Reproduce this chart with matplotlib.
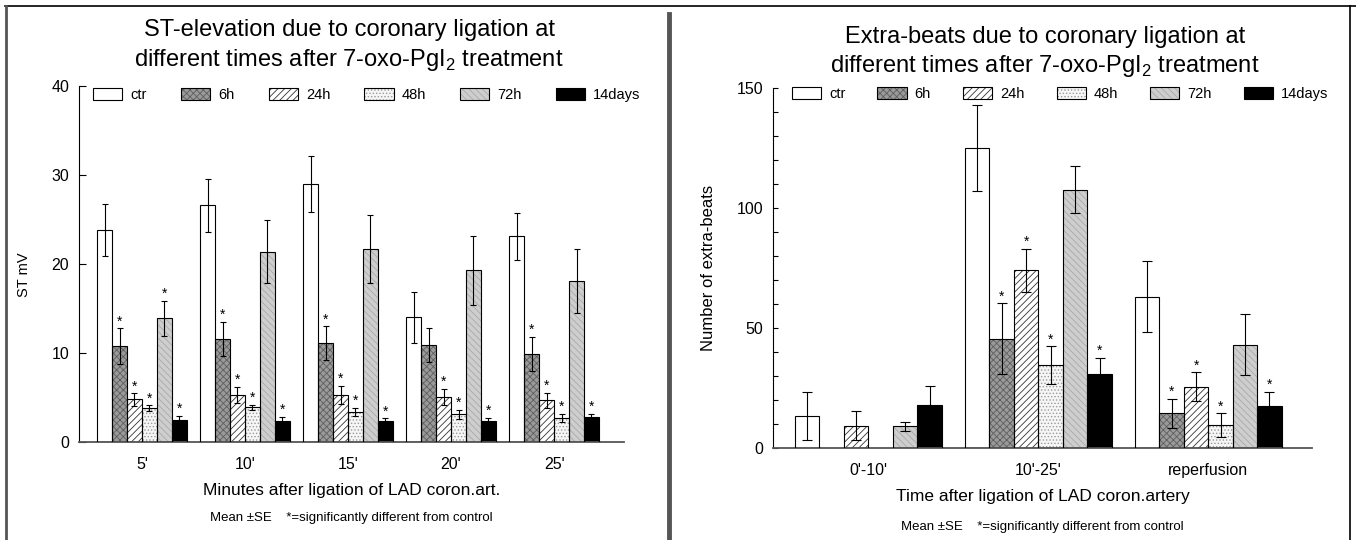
import matplotlib
matplotlib.use('Agg')
import matplotlib.pyplot as plt
import matplotlib.patches as mpatches
from matplotlib.lines import Line2D
import numpy as np

plt.rcParams['font.family'] = ['Liberation Sans', 'DejaVu Sans']
plt.rcParams['hatch.linewidth'] = 0.6

### data
series = ['ctr', '6h', '24h', '48h', '72h', '14days']

st_groups = ["5'", "10'", "15'", "20'", "25'"]
st_mean = {
    'ctr':    [23.8, 26.6, 29.0, 14.0, 23.1],
    '6h':     [10.8, 11.6, 11.1, 10.9, 9.9],
    '24h':    [4.8, 5.3, 5.3, 5.1, 4.7],
    '48h':    [3.8, 3.9, 3.4, 3.1, 2.7],
    '72h':    [13.9, 21.4, 21.7, 19.3, 18.1],
    '14days': [2.5, 2.4, 2.35, 2.4, 2.8],
}
st_se = {
    'ctr':    [2.9, 3.0, 3.1, 2.9, 2.6],
    '6h':     [2.0, 1.9, 1.9, 1.9, 1.9],
    '24h':    [0.7, 0.9, 1.0, 0.9, 0.85],
    '48h':    [0.35, 0.3, 0.45, 0.5, 0.5],
    '72h':    [2.0, 3.5, 3.8, 3.9, 3.6],
    '14days': [0.45, 0.45, 0.3, 0.3, 0.4],
}
st_star = {
    'ctr':    [0, 0, 0, 0, 0],
    '6h':     [1, 1, 1, 0, 1],
    '24h':    [1, 1, 1, 1, 1],
    '48h':    [1, 1, 1, 1, 1],
    '72h':    [1, 0, 0, 0, 0],
    '14days': [1, 1, 1, 1, 1],
}

eb_groups = ["0'-10'", "10'-25'", "reperfusion"]
eb_mean = {
    'ctr':    [13.4, 125.0, 63.0],
    '6h':     [np.nan, 45.5, 14.5],
    '24h':    [9.2, 74.0, 25.5],
    '48h':    [np.nan, 34.6, 9.5],
    '72h':    [9.0, 107.5, 43.0],
    '14days': [18.0, 30.7, 17.5],
}
eb_se = {
    'ctr':    [9.9, 18.0, 14.7],
    '6h':     [np.nan, 14.7, 6.1],
    '24h':    [6.0, 9.0, 6.0],
    '48h':    [np.nan, 7.8, 4.9],
    '72h':    [2.0, 9.8, 12.8],
    '14days': [7.9, 6.9, 5.8],
}
eb_star = {
    'ctr':    [0, 0, 0],
    '6h':     [0, 1, 1],
    '24h':    [0, 1, 1],
    '48h':    [0, 1, 1],
    '72h':    [0, 0, 0],
    '14days': [0, 1, 1],
}

# fill colour, hatch, hatch colour
styles = {
    'ctr':    ('white', '', 'black'),
    '6h':     ('#9a9a9a', 'xxxxx', '#5e5e5e'),
    '24h':    ('white', '/////', '#333333'),
    '48h':    ('#f6f6f6', '.....', '#9a9a9a'),
    '72h':    ('#cecece', '\\\\\\\\\\', '#a9a9a9'),
    '14days': ('black', '', 'black'),
}

fig = plt.figure(figsize=(13.56, 5.4), dpi=100)


def draw_panel(ax, groups, mean, se, star, width, capsize, ylim, ticklen):
    x = np.arange(len(groups))
    for i, s in enumerate(series):
        fc, hatch, hc = styles[s]
        m = np.array(mean[s], dtype=float)
        e = np.array(se[s], dtype=float)
        ok = np.isfinite(m)
        xs = x[ok] + (i - 2.5) * width
        ax.bar(xs, m[ok], width, color=fc, hatch=hatch, edgecolor=hc,
               linewidth=0, zorder=2)
        ax.bar(xs, m[ok], width, fill=False, edgecolor='black',
               linewidth=0.8, zorder=3)
        ax.errorbar(xs, m[ok], yerr=e[ok], fmt='none', ecolor='black',
                    elinewidth=0.8, capsize=capsize, capthick=0.8, zorder=4)
        for xx, mm, ee, st in zip(xs, m[ok], e[ok], np.array(star[s])[ok]):
            if st:
                ax.annotate('*', (xx, mm + ee), xytext=(0, 2),
                            textcoords='offset points', ha='center',
                            va='baseline', fontsize=10)
    ax.set_xticks(x, groups)
    ax.set_ylim(*ylim)
    for side in ['top', 'right']:
        ax.spines[side].set_visible(False)
    ax.spines['left'].set_linewidth(0.8)
    ax.spines['bottom'].set_linewidth(1.3)
    ax.spines['bottom'].set_color('#555555')
    ax.tick_params(axis='x', length=0, pad=11, labelsize=11.5)
    ax.tick_params(axis='y', which='both', direction='in', length=ticklen,
                   width=0.8, labelsize=11.5, pad=7)

    handles = []
    for s in series:
        fc, hatch, hc = styles[s]
        h1 = mpatches.Patch(facecolor=fc, hatch=hatch, edgecolor=hc, linewidth=0)
        h2 = mpatches.Patch(fill=False, edgecolor='black', linewidth=0.8)
        handles.append((h1, h2))
    return handles


# left: ST elevation
ax1 = fig.add_axes([0.0583, 0.1815, 0.402, 0.659])
h = draw_panel(ax1, st_groups, st_mean, st_se, st_star, 0.145, 2.5, (0, 40), 5)
ax1.set_xlim(-0.61, 4.68)
ax1.set_yticks([0, 10, 20, 30, 40])
ax1.set_ylabel('ST mV', fontsize=10.5)
ax1.yaxis.set_label_coords(-0.088, 0.47)
ax1.set_xlabel('Minutes after ligation of LAD coron.art.', fontsize=12.5, labelpad=8)
ax1.text(0.5, -0.2135, 'Mean \u00b1SE    *=significantly different from control',
         transform=ax1.transAxes, ha='center', va='center', fontsize=9.5)
ax1.legend(h, series, ncol=6, loc='center left', bbox_to_anchor=(0.0257, 0.975),
           frameon=False, borderpad=0, borderaxespad=0, fontsize=10.5,
           handlelength=2.0, handleheight=0.95, handletextpad=0.55,
           columnspacing=2.35)
fig.text(0.2574, 0.944, 'ST-elevation due to coronary ligation at',
         ha='center', va='center', fontsize=17)
fig.text(0.2574, 0.889, 'different times after 7-oxo-PgI$_\\mathregular{2}$ treatment',
         ha='center', va='center', fontsize=17)

# right: extra-beats
ax2 = fig.add_axes([0.570, 0.1704, 0.3975, 0.667])
h = draw_panel(ax2, eb_groups, eb_mean, eb_se, eb_star, 0.144, 3.5, (0, 150), 3.5)
ax2.set_xlim(-0.562, 2.61)
ax2.set_yticks([0, 50, 100, 150])
ax2.set_yticks(np.arange(10, 150, 10), minor=True)
ax2.set_ylabel('Number of extra-beats', fontsize=12)
ax2.yaxis.set_label_coords(-0.106, 0.5)
ax2.set_xlabel('Time after ligation of LAD coron.artery', fontsize=12.5, labelpad=8)
ax2.text(0.5, -0.218, 'Mean \u00b1SE    *=significantly different from control',
         transform=ax2.transAxes, ha='center', va='center', fontsize=9.5)
ax2.legend(h, series, ncol=6, loc='center left', bbox_to_anchor=(0.035, 0.983),
           frameon=False, borderpad=0, borderaxespad=0, fontsize=10.5,
           handlelength=2.0, handleheight=0.95, handletextpad=0.55,
           columnspacing=2.2)
fig.text(0.7706, 0.931, 'Extra-beats due to coronary ligation at',
         ha='center', va='center', fontsize=17)
fig.text(0.7706, 0.877, 'different times after 7-oxo-PgI$_\\mathregular{2}$ treatment',
         ha='center', va='center', fontsize=17)

# page frame lines
fig.add_artist(Line2D([0.004, 1.0], [0.988, 0.988], color='black', lw=1.2))
fig.add_artist(Line2D([0.0045, 0.0045], [0.0, 0.988], color='#555555', lw=2.0))
fig.add_artist(Line2D([0.4935, 0.4935], [0.0, 0.975], color='#555555', lw=3.5))
fig.add_artist(Line2D([0.9955, 0.9955], [0.0, 0.988], color='black', lw=1.2))

fig.savefig('out.png', dpi=100)
